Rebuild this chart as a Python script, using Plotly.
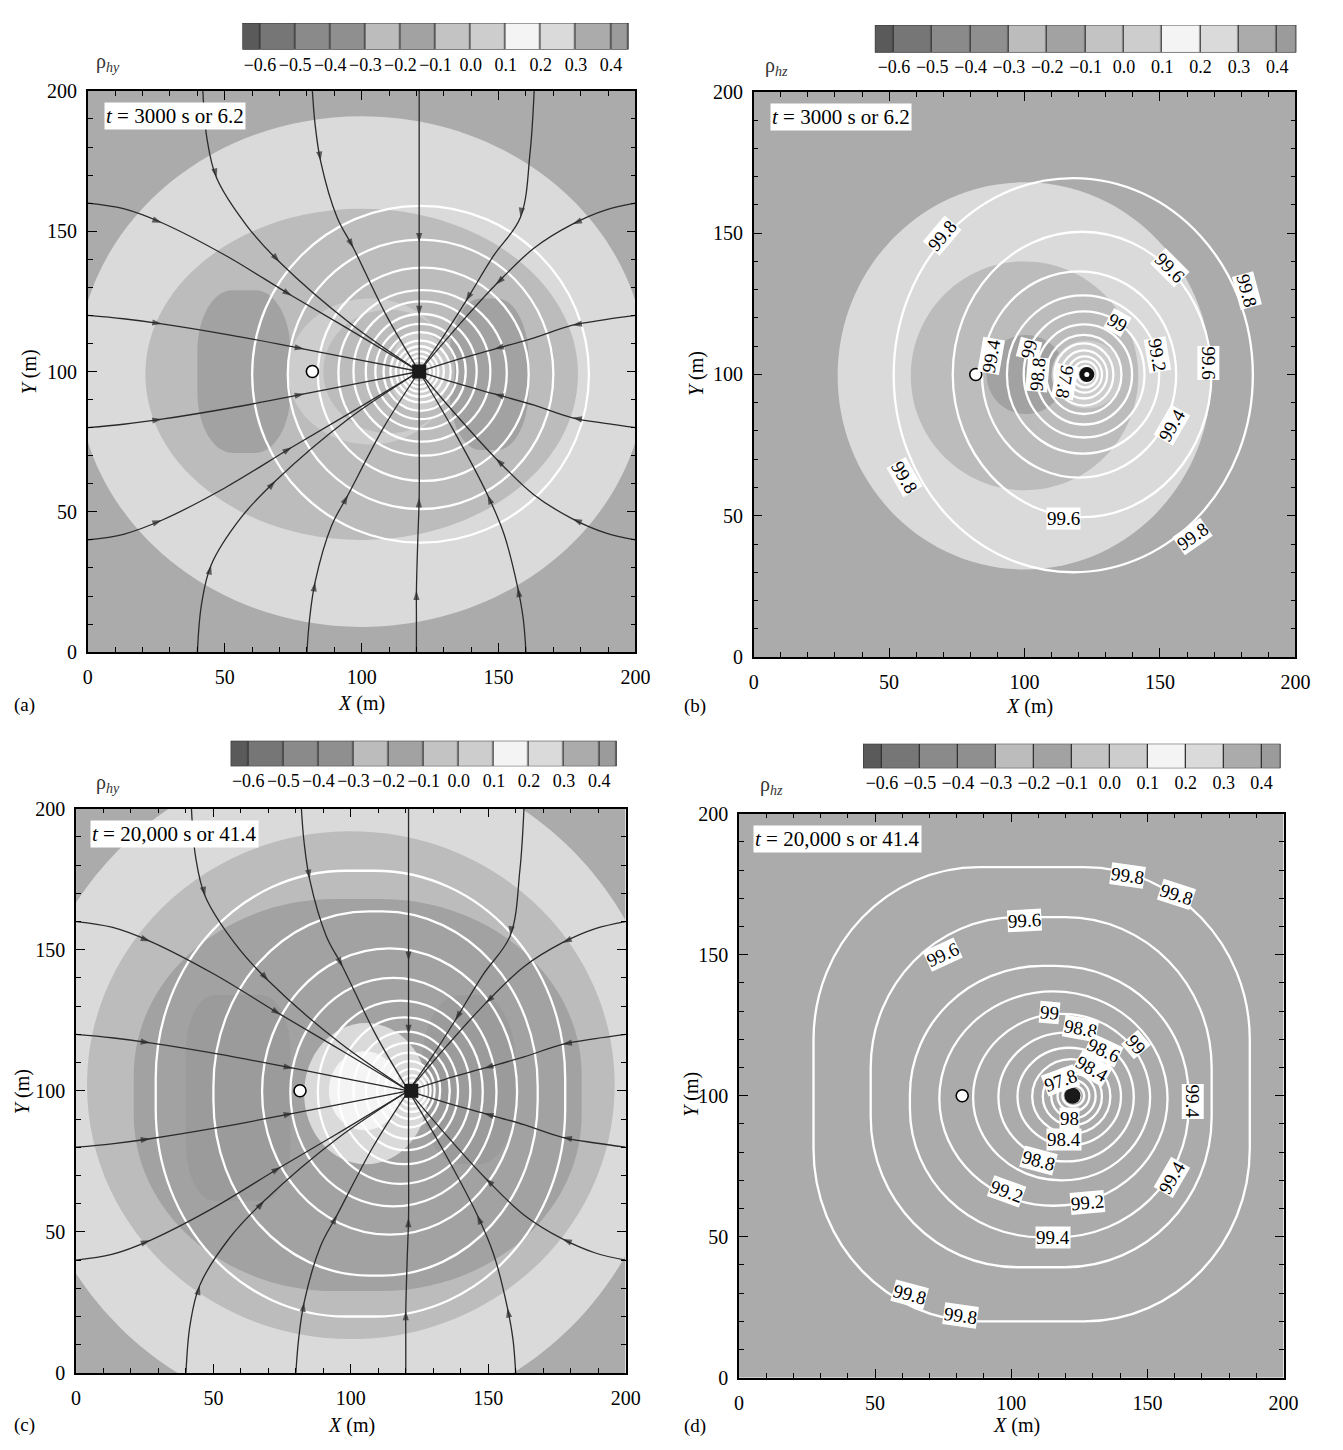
import plotly.graph_objects as go

FONT = "Liberation Serif"

# ---------------- colour scale of rho ----------------
rho_edges = [-0.65, -0.6, -0.5, -0.4, -0.3, -0.2, -0.1, 0.0, 0.1, 0.2, 0.3, 0.4, 0.45]
rho_block_colors = ["#5a5a5a", "#767676", "#8a8a8a", "#8f8f8f", "#bcbcbc", "#a2a2a2",
                    "#c3c3c3", "#cdcdcd", "#f4f4f4", "#dadada", "#ababab", "#9b9b9b"]
rho_ticks = [-0.6, -0.5, -0.4, -0.3, -0.2, -0.1, 0.0, 0.1, 0.2, 0.3, 0.4]

# ---------------- wells ----------------
pump_x = [121, 123, 122, 122.5]
pump_y = [100, 100, 100, 100]
obs_x = [82, 82, 81.5, 82]
obs_y = [100, 100, 100, 100]
time_text = ["<i>t</i> = 3000 s or 6.2", "<i>t</i> = 3000 s or 6.2",
             "<i>t</i> = 20,000 s or 41.4", "<i>t</i> = 20,000 s or 41.4"]
rho_names = ["ρ<sub><i>hy</i></sub>", "ρ<sub><i>hz</i></sub>",
             "ρ<sub><i>hy</i></sub>", "ρ<sub><i>hz</i></sub>"]
panel_tags = ["(a)", "(b)", "(c)", "(d)"]

# ---------------- rho regions (extents) ----------------
a_fill_rho = [0.35, 0.25, -0.25, -0.15, -0.15, 0.05, -0.25, 0.05]
a_fill_xl = [0, -4, 21, 40, 132, 73, 86, 110]
a_fill_xr = [200, 204, 179, 74, 161, 133, 134, 132]
a_fill_yb = [0, 9, 40, 71, 72, 74, 78, 86]
a_fill_yt = [200, 191, 158, 129, 126, 126, 122, 114]
a_fill_round = [0, 1, 1, 0.75, 0.8, 1, 1, 1]

b_fill_rho = [0.35, 0.25, -0.25, -0.15, 0.05]
b_fill_xl = [0, 31, 58, 86, 110]
b_fill_xr = [200, 169, 142, 115, 136]
b_fill_yb = [0, 31, 59, 86, 88]
b_fill_yt = [200, 168, 140, 114, 112]
b_fill_round = [0, 1, 1, 1, 1]

c_fill_rho = [0.35, 0.25, -0.25, -0.15, 0.45, 0.45, 0.25, 0.15]
c_fill_xl = [0, -20, 4, 21, 40, 126, 83, 92]
c_fill_xr = [200, 216, 196, 184, 78, 160, 128, 118]
c_fill_yb = [0, -17, 12, 29, 61, 74, 74, 86]
c_fill_yt = [200, 219, 192, 168, 134, 134, 124, 114]
c_fill_round = [0, 1, 1, 0.9, 0.55, 0.8, 1, 1]

d_fill_rho = [0.35]
d_fill_xl = [0]
d_fill_xr = [200]
d_fill_yb = [0]
d_fill_yt = [200]
d_fill_round = [0]

# ---------------- head contours (extents) ----------------
a_head_xl = [60, 73, 84, 91.5, 97, 101.5, 105, 108, 110.5, 112.5, 114.3, 115.8, 117]
a_head_xr = [183, 170, 161, 153, 147, 142, 138, 135, 132.5, 130, 128, 126.5, 125]
a_head_yb = [39, 51, 61, 70, 75, 79.5, 83, 86, 89, 91, 92.8, 94.5, 96]
a_head_yt = [159, 147, 137, 129, 125, 120.5, 117, 114, 111, 109, 107.2, 105.5, 104]
a_head_round = [1] * 13

b_head_level = [99.8, 99.6, 99.4, 99.2, 99.0, 98.8, 98.6, 98.4, 98.2, 98.0, 97.8, 97.6]
b_head_xl = [51.7, 73.5, 84.3, 93.5, 99.7, 104.3, 108, 111, 113.5, 115.8, 117.8, 119.5]
b_head_xr = [184.3, 169, 156, 149.7, 144.3, 139.7, 135.8, 132.8, 130.5, 128.6, 127, 125.5]
b_head_yb = [30, 49.5, 63.5, 72, 77.7, 82.3, 86, 89, 91.5, 93.6, 95.4, 97]
b_head_yt = [169.5, 150.5, 136.5, 128, 122.3, 117.7, 114, 111, 108.5, 106.4, 104.6, 103]
b_head_round = [1] * 12

c_head_xl = [29, 50, 67.7, 78, 88, 95.5, 101, 105.5, 109.5, 112.5, 115, 117, 118.8]
c_head_xr = [178, 168, 160.5, 153, 148, 143.5, 139, 136, 132.5, 130.5, 129, 127.5, 126]
c_head_yb = [20, 34.5, 49, 59, 67, 74, 79, 83, 87, 90, 92.5, 94.5, 96.3]
c_head_yt = [178, 163.6, 150.5, 140, 132, 126, 121, 117, 113.5, 110.5, 107.8, 105.5, 103.7]
c_head_round = [0.93, 0.96, 1, 1, 1, 1, 1, 1, 1, 1, 1, 1, 1]

d_head_level = [99.8, 99.6, 99.4, 99.2, 99.0, 98.8, 98.6, 98.4, 98.2, 98.0, 97.8, 97.6, 97.4]
d_head_xl = [27.4, 48.4, 62.8, 73.6, 86, 95.3, 102.3, 107.7, 111.6, 114.7, 117, 118.8, 120.3]
d_head_xr = [187.6, 173.6, 165.1, 157.4, 151, 145, 140.3, 136.4, 133.3, 131, 128.7, 126.8, 125.3]
d_head_yb = [20, 39.2, 49.8, 61, 70, 76.7, 82.4, 86.5, 89.5, 92, 94.5, 96.3, 97.7]
d_head_yt = [181, 163.3, 146, 137, 129, 122.4, 117, 113, 110, 107.8, 105.5, 103.7, 102.3]
d_head_round = [0.76, 0.86, 0.95, 1, 1, 1, 1, 1, 1, 1, 1, 1, 1]

# ---------------- contour labels ----------------
b_lab_text = ["99.8", "99.6", "99.8", "99", "99.2", "99.6", "99.4", "99", "98.8",
              "97.8", "99.4", "99.8", "99.6", "99.8"]
b_lab_x = [69.7, 153.5, 182, 134.3, 149, 168, 87.5, 101.5, 104.8, 114.8, 154.3, 55.8, 114.3, 162]
b_lab_y = [149, 137.7, 129.6, 118.4, 107, 104, 106.5, 109, 100, 97.4, 82, 63.6, 49, 42.7]
b_lab_angle = [-50, 45, 75, 30, 80, 90, -80, -75, -85, 100, -60, 60, 0, -35]

d_lab_text = ["99.8", "99.8", "99.6", "99.6", "99", "98.8", "99", "98.6", "98.4", "97.8",
              "98", "98.4", "98.8", "99.2", "99.2", "99.4", "99.4", "99.4", "99.8", "99.8"]
d_lab_x = [142.6, 160.8, 104.7, 74.9, 114, 125.6, 145.7, 134, 129.5, 118,
           121.4, 119.4, 110, 98.4, 128, 115.5, 166.7, 159, 62.8, 81.4]
d_lab_y = [178, 171.4, 162, 150.2, 129.5, 123.8, 118, 116, 109.5, 105.5,
           92, 84.6, 77, 66, 62, 49.8, 98, 71, 29.4, 22]
d_lab_angle = [8, 18, -3, -25, 5, 10, 50, 25, 30, -20, 0, 0, 15, 20, -5, 0, 90, -60, 15, 8]

# ---------------- streamlines (panels a and c) ----------------
stream_x = [
    [0, 13, 27, 50, 74.5, 98, 121],
    [0, 13, 27, 52, 79, 100, 121],
    [0, 13, 27, 52, 79, 100, 121],
    [0, 13, 27, 50, 74.5, 98, 121],
    [42, 43.5, 47, 58, 70, 96, 121],
    [82, 83, 85, 91, 97, 109, 121],
    [121, 121, 121, 121, 121, 121, 121],
    [163, 161.5, 158, 148, 138, 129.5, 121],
    [200, 189, 177, 163, 149, 135, 121],
    [200, 189, 177, 163, 148.5, 134, 121],
    [200, 189, 177, 163, 148.5, 134, 121],
    [200, 189, 177, 163, 149, 135, 121],
    [40, 41.5, 45, 56, 68.5, 95, 121],
    [80, 81, 83, 89, 95, 108, 121],
    [120, 120, 120, 120.5, 121, 121, 121],
    [160, 159, 157, 152, 146, 133, 121],
]
stream_y = [
    [160, 158, 153, 141.5, 127, 113.5, 100],
    [120, 118.8, 117, 113, 108, 104, 100],
    [80, 81.2, 83, 87, 92, 96, 100],
    [40, 42, 47, 58.5, 73, 86.5, 100],
    [200, 183, 169, 152, 139, 117, 100],
    [200, 188, 175, 155, 144, 120, 100],
    [200, 175, 146, 133, 120, 110, 100],
    [200, 178, 155, 141, 125, 112, 100],
    [160, 157.5, 152.5, 144, 131, 116, 100],
    [120, 118.5, 116.5, 112, 108, 104, 100],
    [80, 81.5, 83.5, 88, 92, 96, 100],
    [40, 42.5, 47.5, 56, 69, 84, 100],
    [0, 17, 31, 48, 61, 83, 100],
    [0, 12, 25, 45, 56, 80, 100],
    [0, 12, 22, 40, 55, 78, 100],
    [0, 12, 23, 42, 56, 80, 100],
]
arrow_at = [2, 4]

# ---------------- page geometry (reference pixels; page has an 8px body margin) ----------------
FIG_W, FIG_H, PAGE_MARGIN = 1327, 1434, 8


def fx(px):
    return (px - PAGE_MARGIN) / FIG_W


def fy(py):
    return 1 - (py - PAGE_MARGIN) / FIG_H


plot_px = [(84, 640, 81, 651), (760, 1310, 82, 656), (72, 630, 810, 1383), (745, 1298, 815, 1388)]
cbar_px = [(241, 633, 12, 39), (883, 1311, 14, 42), (229, 621, 741, 767), (871, 1295, 744, 769)]
xtitle_px = [(362, 703), (1040, 706), (352, 1436), (1027, 1436)]
ytitle_px = [(25, 366), (702, 368), (17, 1097), (697, 1100)]
tag_px = [(20, 705), (700, 706), (20, 1436), (700, 1437)]
rho_px = [(104, 52), (783, 56), (104, 784), (778, 786)]


# ---------------- helpers ----------------
def rho_color(v):
    for i in range(len(rho_block_colors)):
        if rho_edges[i] <= v < rho_edges[i + 1]:
            return rho_block_colors[i]
    return rho_block_colors[-1]


def blob_path(xl, xr, yb, yt, f):
    cx, cy = (xl + xr) / 2, (yb + yt) / 2
    hx, hy = (xr - xl) / 2, (yt - yb) / 2
    rx, ry = f * hx, f * hy
    k = 0.5523
    return (f"M {xr},{cy} L {xr},{yt - ry} "
            f"C {xr},{yt - ry + k * ry} {xr - rx + k * rx},{yt} {xr - rx},{yt} "
            f"L {xl + rx},{yt} "
            f"C {xl + rx - k * rx},{yt} {xl},{yt - ry + k * ry} {xl},{yt - ry} "
            f"L {xl},{yb + ry} "
            f"C {xl},{yb + ry - k * ry} {xl + rx - k * rx},{yb} {xl + rx},{yb} "
            f"L {xr - rx},{yb} "
            f"C {xr - rx + k * rx},{yb} {xr},{yb + ry - k * ry} {xr},{yb + ry} Z")


fig = go.Figure()
shapes = []
annotations = []

panels = [
    dict(xa="x", ya="y", fill=(a_fill_xl, a_fill_xr, a_fill_yb, a_fill_yt, a_fill_round, a_fill_rho),
         head=(a_head_xl, a_head_xr, a_head_yb, a_head_yt, a_head_round), streams=True, labels=None),
    dict(xa="x2", ya="y2", fill=(b_fill_xl, b_fill_xr, b_fill_yb, b_fill_yt, b_fill_round, b_fill_rho),
         head=(b_head_xl, b_head_xr, b_head_yb, b_head_yt, b_head_round), streams=False,
         labels=(b_lab_text, b_lab_x, b_lab_y, b_lab_angle)),
    dict(xa="x3", ya="y3", fill=(c_fill_xl, c_fill_xr, c_fill_yb, c_fill_yt, c_fill_round, c_fill_rho),
         head=(c_head_xl, c_head_xr, c_head_yb, c_head_yt, c_head_round), streams=True, labels=None),
    dict(xa="x4", ya="y4", fill=(d_fill_xl, d_fill_xr, d_fill_yb, d_fill_yt, d_fill_round, d_fill_rho),
         head=(d_head_xl, d_head_xr, d_head_yb, d_head_yt, d_head_round), streams=False,
         labels=(d_lab_text, d_lab_x, d_lab_y, d_lab_angle)),
]

for i, p in enumerate(panels):
    xa, ya = p["xa"], p["ya"]
    xl, xr, yb, yt, rnd, val = p["fill"]
    for j in range(len(val)):
        shapes.append(dict(type="path", xref=xa, yref=ya, layer="below",
                           path=blob_path(xl[j], xr[j], yb[j], yt[j], rnd[j]),
                           fillcolor=rho_color(val[j]), line=dict(width=0)))
    hxl, hxr, hyb, hyt, hr = p["head"]
    for j in range(len(hxl)):
        shapes.append(dict(type="path", xref=xa, yref=ya, layer="below",
                           path=blob_path(hxl[j], hxr[j], hyb[j], hyt[j], hr[j]),
                           fillcolor="rgba(0,0,0,0)", line=dict(color="white", width=2.3)))
    if p["streams"]:
        for sx, sy in zip(stream_x, stream_y):
            sizes = [10 if k in arrow_at else 0 for k in range(len(sx))]
            fig.add_trace(go.Scatter(x=sx, y=sy, xaxis=xa, yaxis=ya, mode="lines+markers",
                                     line=dict(color="#2a2a2a", width=1.3, shape="spline"),
                                     marker=dict(symbol="arrow", size=sizes, color="#2a2a2a",
                                                 angleref="previous", line=dict(width=0)),
                                     hoverinfo="skip", showlegend=False))
    # wells
    if i == 1:
        fig.add_trace(go.Scatter(x=[pump_x[i]], y=[pump_y[i]], xaxis=xa, yaxis=ya, mode="markers",
                                 marker=dict(size=15, color="#111"), showlegend=False))
        fig.add_trace(go.Scatter(x=[pump_x[i]], y=[pump_y[i]], xaxis=xa, yaxis=ya, mode="markers",
                                 marker=dict(size=5, color="white"), showlegend=False))
    else:
        fig.add_trace(go.Scatter(x=[pump_x[i]], y=[pump_y[i]], xaxis=xa, yaxis=ya, mode="markers",
                                 marker=dict(size=16 if i == 3 else 14,
                                             symbol="circle" if i == 3 else "square",
                                             color="#1a1a1a"), showlegend=False))
    fig.add_trace(go.Scatter(x=[obs_x[i]], y=[obs_y[i]], xaxis=xa, yaxis=ya, mode="markers",
                             marker=dict(size=12, color="white", line=dict(color="black", width=1.6)),
                             showlegend=False))
    # contour labels
    if p["labels"] is not None:
        lt, lx, ly, la = p["labels"]
        for t, x, y, a in zip(lt, lx, ly, la):
            annotations.append(dict(x=x, y=y, xref=xa, yref=ya, text=t, showarrow=False,
                                    textangle=a, bgcolor="white", borderpad=0,
                                    font=dict(family=FONT, size=19, color="black")))
    # time label
    annotations.append(dict(x=6 if i < 2 else 5, y=191, xref=xa, yref=ya, text=time_text[i],
                            showarrow=False, xanchor="left", yanchor="middle", bgcolor="white",
                            borderpad=1, font=dict(family=FONT, size=21, color="black")))
    # axis titles and tags
    annotations.append(dict(x=fx(xtitle_px[i][0]), y=fy(xtitle_px[i][1]), xref="paper", yref="paper",
                            text="<i>X</i> (m)", showarrow=False, xanchor="center", yanchor="middle",
                            font=dict(family=FONT, size=20, color="black")))
    annotations.append(dict(x=fx(ytitle_px[i][0]), y=fy(ytitle_px[i][1]), xref="paper", yref="paper",
                            text="<i>Y</i> (m)", showarrow=False, textangle=-90,
                            xanchor="center", yanchor="middle",
                            font=dict(family=FONT, size=20, color="black")))
    annotations.append(dict(x=fx(tag_px[i][0]), y=fy(tag_px[i][1]), xref="paper", yref="paper",
                            text=panel_tags[i], showarrow=False, xanchor="center", yanchor="middle",
                            font=dict(family=FONT, size=19, color="black")))
    annotations.append(dict(x=fx(rho_px[i][0]), y=fy(rho_px[i][1]), xref="paper", yref="paper",
                            text=rho_names[i], showarrow=False, xanchor="center", yanchor="middle",
                            font=dict(family=FONT, size=20, color="#333")))

# ---------------- colour bars ----------------
rho_mids = [(rho_edges[k] + rho_edges[k + 1]) / 2 for k in range(len(rho_block_colors))]
span = rho_edges[-1] - rho_edges[0]
cscale = []
for k, c in enumerate(rho_block_colors):
    cscale.append([(rho_edges[k] - rho_edges[0]) / span, c])
    cscale.append([(rho_edges[k + 1] - rho_edges[0]) / span, c])
cscale[0][0] = 0.0
cscale[-1][0] = 1.0

for i in range(4):
    xa, ya = f"x{5 + i}", f"y{5 + i}"
    shapes.append(dict(type="rect", xref=xa, yref=ya, x0=rho_edges[0], x1=rho_edges[-1], y0=0, y1=1,
                       layer="below", fillcolor="#333", line=dict(width=0)))
    fig.add_trace(go.Heatmap(x=rho_edges, y=[0, 1], z=[rho_mids], xaxis=xa, yaxis=ya,
                             colorscale=cscale, zmin=rho_edges[0], zmax=rho_edges[-1],
                             showscale=False, xgap=1.3, hoverinfo="skip"))
    shapes.append(dict(type="rect", xref=xa, yref=ya, x0=rho_edges[0], x1=rho_edges[-1], y0=0, y1=1,
                       layer="above", fillcolor="rgba(0,0,0,0)", line=dict(color="#333", width=1)))

# ---------------- layout ----------------
layout = dict(width=FIG_W, height=FIG_H, margin=dict(l=0, r=0, t=0, b=0),
              paper_bgcolor="white", plot_bgcolor="white", showlegend=False,
              shapes=shapes, annotations=annotations)

for i in range(4):
    sx = "" if i == 0 else str(i + 1)
    l, r, t, b = plot_px[i]
    common = dict(range=[0, 200], tickmode="linear", tick0=0, dtick=50, ticks="inside",
                  ticklen=9, tickwidth=1.2, tickcolor="black", showline=True, linecolor="black",
                  linewidth=1.5, mirror="allticks", showgrid=False, zeroline=False,
                  minor=dict(dtick=10, tick0=0, ticks="inside", ticklen=5, tickcolor="black",
                             tickwidth=1, showgrid=False),
                  tickfont=dict(family=FONT, size=20, color="black"), fixedrange=True)
    layout["xaxis" + sx] = dict(domain=[fx(l), fx(r)], anchor="y" + sx, ticklabelstandoff=6, **common)
    layout["yaxis" + sx] = dict(domain=[fy(b), fy(t)], anchor="x" + sx, ticklabelstandoff=5, **common)

for i in range(4):
    n = str(5 + i)
    l, r, t, b = cbar_px[i]
    layout["xaxis" + n] = dict(domain=[fx(l), fx(r)], anchor="y" + n, range=[rho_edges[0], rho_edges[-1]],
                               tickmode="array", tickvals=rho_ticks,
                               ticktext=[f"{v:.1f}".replace("-", "\u2212") for v in rho_ticks],
                               ticks="", showline=False, showgrid=False, zeroline=False,
                               ticklabelstandoff=2,
                               tickfont=dict(family=FONT, size=18, color="black"), fixedrange=True)
    layout["yaxis" + n] = dict(domain=[fy(b), fy(t)], anchor="x" + n, range=[0, 1], visible=False,
                               fixedrange=True)

fig.update_layout(**layout)
fig.write_html("out.html", config={"displayModeBar": False})
